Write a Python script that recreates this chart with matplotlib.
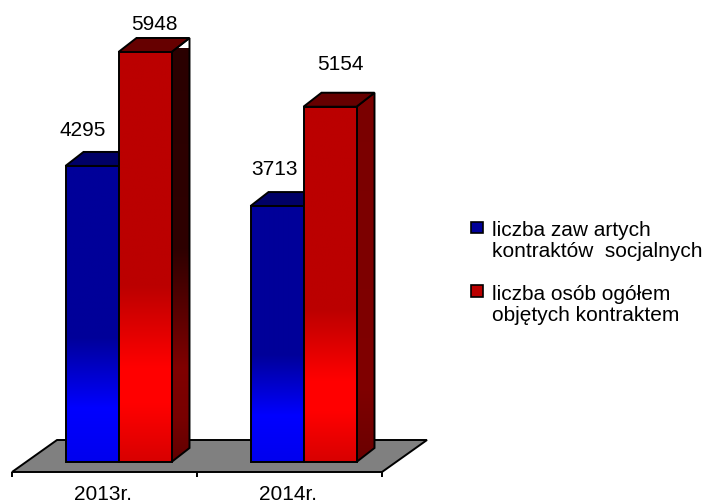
import matplotlib
matplotlib.use('Agg')
import matplotlib.pyplot as plt
import numpy as np
from matplotlib.patches import Polygon, Rectangle
from matplotlib.colors import LinearSegmentedColormap

# ---------------- data ----------------
categories = ['2013r.', '2014r.']
series_labels = ['liczba zaw artych\nkontraktów  socjalnych',
                 'liczba osób ogółem\nobjętych kontraktem']
contracts = [4295, 3713]
persons = [5948, 5154]

# ---------------- style ----------------
plt.rcParams['font.family'] = ['Liberation Sans', 'DejaVu Sans']
FS = 15
W, H = 711, 504
fig = plt.figure(figsize=(W / 100, H / 100), dpi=100)
ax = fig.add_axes([26 / W, 42 / H, 370 / W, 413.6 / H])
ax.set_xlim(-0.5, len(categories) - 0.5)
ax.set_ylim(0, 6000)
ax.set_autoscale_on(False)
ax.axis('off')

t = ax.transData
o = t.transform((0, 0))
ux = t.transform((1, 0))[0] - o[0]
uy = (t.transform((0, 1000))[1] - o[1]) / 1000.0


def off(xp, yp):
    return xp / ux, yp / uy


bar_w = 53 / ux
ddx, ddy = off(18, 14)

blue_front = LinearSegmentedColormap.from_list('bf', [
    (0.0, '#000099'), (0.58, '#000099'), (0.82, '#0000ff'), (1.0, '#0000ee')])
red_front = LinearSegmentedColormap.from_list('rf', [
    (0.0, '#bb0000'), (0.57, '#bb0000'), (0.77, '#ff0000'), (0.86, '#ff0000'), (1.0, '#d80000')])
red_side = [
    LinearSegmentedColormap.from_list('rs0', [
        (0.0, '#2a0000'), (0.5, '#2e0000'), (0.78, '#800000'), (0.9, '#780000'), (1.0, '#600000')]),
    LinearSegmentedColormap.from_list('rs1', [
        (0.0, '#7a0000'), (0.8, '#800000'), (1.0, '#6a0000')]),
]
blue_side = LinearSegmentedColormap.from_list('bs', ['#000044', '#000066'])
grad = np.linspace(0, 1, 256).reshape(-1, 1)
LW = 1.4

# ---------------- floor ----------------
fx, fy = off(-14, -10)
bx, by = off(31, 22)
x0f, x1f = -0.5, len(categories) - 0.5
floor = Polygon([(x0f + fx, fy), (x1f + fx, fy), (x1f + bx, by), (x0f + bx, by)],
                closed=True, facecolor='#808080', edgecolor='black', lw=LW,
                clip_on=False, zorder=1)
ax.add_patch(floor)
_, tick_len = off(0, -5)
for xt in np.arange(x0f, x1f + 0.01, 1.0):
    ax.plot([xt + fx, xt + fx], [fy, fy + tick_len], color='black', lw=LW,
            clip_on=False, zorder=1, solid_capstyle='butt')
_, lab_y = off(0, -37.5)
for i, c in enumerate(categories):
    ax.text(i + fx - 1.5 / ux, lab_y, c, ha='center', va='baseline', fontsize=FS, color='black')


def bar3d(x0, val, front_cmap, side_cmap, top_color, z):
    x1 = x0 + bar_w
    # side face
    side = Polygon([(x1, 0), (x1 + ddx, ddy), (x1 + ddx, val + ddy), (x1, val)],
                   closed=True, facecolor='none', edgecolor='none', clip_on=False, zorder=z)
    ax.add_patch(side)
    im = ax.imshow(grad, cmap=side_cmap, extent=[x1, x1 + ddx, 0, val + ddy],
                   aspect='auto', origin='upper', interpolation='bilinear', zorder=z)
    im.set_clip_path(side)
    ax.add_patch(Polygon([(x1, 0), (x1 + ddx, ddy), (x1 + ddx, val + ddy), (x1, val)],
                         closed=True, facecolor='none', edgecolor='black', lw=LW,
                         clip_on=False, zorder=z + 0.1, joinstyle='miter'))
    # top face
    ax.add_patch(Polygon([(x0, val), (x1, val), (x1 + ddx, val + ddy), (x0 + ddx, val + ddy)],
                         closed=True, facecolor=top_color, edgecolor='black', lw=LW,
                         clip_on=False, zorder=z + 0.1, joinstyle='miter'))
    # front face
    ax.imshow(grad, cmap=front_cmap, extent=[x0, x1, 0, val], aspect='auto',
              origin='upper', interpolation='bilinear', zorder=z + 0.2, clip_on=False)
    ax.add_patch(Rectangle((x0, 0), bar_w, val, facecolor='none', edgecolor='black',
                           lw=LW, clip_on=False, zorder=z + 0.3, joinstyle='miter'))


# value label offsets (pixels, relative to front-top centre; baseline)
blue_lab = [(-9.5, 30), (-3, 31.5)]
red_lab = [(9, 21.5), (10, 36.5)]

for i in range(len(categories)):
    z = 2 + i * 2
    bar3d(i - bar_w, contracts[i], blue_front, blue_side, '#000066', z)
    bar3d(i, persons[i], red_front, red_side[i], '#660000', z + 1)
    lx, ly = off(*blue_lab[i])
    ax.text(i - bar_w / 2 + lx, contracts[i] + ly, f'{contracts[i]}', ha='center',
            va='baseline', fontsize=FS, color='black', zorder=10)
    lx, ly = off(*red_lab[i])
    ax.text(i + bar_w / 2 + lx, persons[i] + ly, f'{persons[i]}', ha='center',
            va='baseline', fontsize=FS, color='black', zorder=10)

# ---------------- legend ----------------
leg_colors = ['#000099', '#bb0000']
leg_tops = [221.7, 285.2]
for col, top, lab in zip(leg_colors, leg_tops, series_labels):
    fig.add_artist(Rectangle((471 / W, 1 - (top + 11.6) / H), 12 / W, 11.6 / H,
                             transform=fig.transFigure, facecolor=col,
                             edgecolor='black', lw=1.2))
    fig.text(492 / W, 1 - (top - 0.7) / H, lab, ha='left', va='top', fontsize=FS,
             color='black', linespacing=1.16)

fig.savefig('out.png', dpi=100)
